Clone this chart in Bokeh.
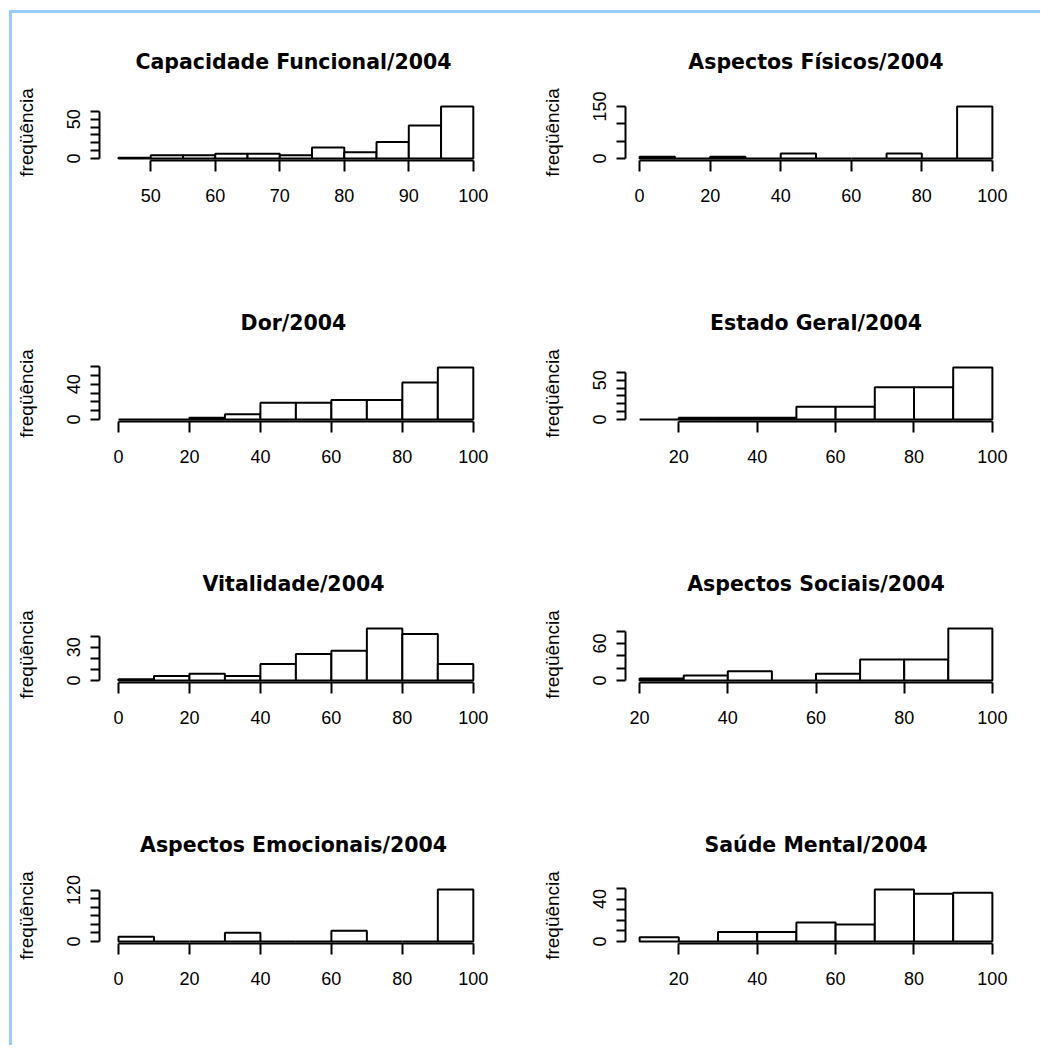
from bokeh.plotting import figure
from bokeh.layouts import column, row
from bokeh.models import FixedTicker, Range1d
from bokeh.embed import file_html
from bokeh.resources import INLINE

# ---- data ----
titles = ["Capacidade Funcional/2004", "Aspectos Físicos/2004",
          "Dor/2004", "Estado Geral/2004",
          "Vitalidade/2004", "Aspectos Sociais/2004",
          "Aspectos Emocionais/2004", "Saúde Mental/2004"]

breaks_cf = [45, 50, 55, 60, 65, 70, 75, 80, 85, 90, 95, 100]
counts_cf = [1, 4, 4, 6, 6, 4, 14, 8, 21, 42, 66]
xticks_cf = [50, 60, 70, 80, 90, 100]
yticks_cf = [0, 10, 20, 30, 40, 50, 60]
ylabels_cf = [0, 50]

breaks_af = [0, 10, 20, 30, 40, 50, 60, 70, 80, 90, 100]
counts_af = [5, 0, 5, 0, 14, 0, 0, 14, 0, 150]
xticks_af = [0, 20, 40, 60, 80, 100]
yticks_af = [0, 50, 100, 150]
ylabels_af = [0, 150]

breaks_dor = [0, 10, 20, 30, 40, 50, 60, 70, 80, 90, 100]
counts_dor = [0, 0, 2, 6, 19, 19, 22, 22, 42, 59]
xticks_dor = [0, 20, 40, 60, 80, 100]
yticks_dor = [0, 10, 20, 30, 40, 50, 60]
ylabels_dor = [0, 40]

breaks_eg = [10, 20, 30, 40, 50, 60, 70, 80, 90, 100]
counts_eg = [0, 2, 2, 2, 16, 16, 41, 41, 66]
xticks_eg = [20, 40, 60, 80, 100]
yticks_eg = [0, 10, 20, 30, 40, 50, 60]
ylabels_eg = [0, 50]

breaks_vit = [0, 10, 20, 30, 40, 50, 60, 70, 80, 90, 100]
counts_vit = [1, 4, 6, 4, 15, 24, 27, 47, 42, 15]
xticks_vit = [0, 20, 40, 60, 80, 100]
yticks_vit = [0, 10, 20, 30, 40]
ylabels_vit = [0, 30]

breaks_as = [20, 30, 40, 50, 60, 70, 80, 90, 100]
counts_as = [3, 8, 15, 0, 11, 34, 34, 84]
xticks_as = [20, 40, 60, 80, 100]
yticks_as = [0, 20, 40, 60, 80]
ylabels_as = [0, 60]

breaks_ae = [0, 10, 20, 30, 40, 50, 60, 70, 80, 90, 100]
counts_ae = [11, 0, 0, 20, 0, 0, 25, 0, 0, 121]
xticks_ae = [0, 20, 40, 60, 80, 100]
yticks_ae = [0, 20, 40, 60, 80, 100, 120]
ylabels_ae = [0, 120]

breaks_sm = [10, 20, 30, 40, 50, 60, 70, 80, 90, 100]
counts_sm = [4, 0, 9, 9, 18, 16, 49, 45, 46]
xticks_sm = [20, 40, 60, 80, 100]
yticks_sm = [0, 10, 20, 30, 40, 50]
ylabels_sm = [0, 40]

ylab = "freqüência"

panels = [
    (titles[0], breaks_cf, counts_cf, xticks_cf, yticks_cf, ylabels_cf),
    (titles[1], breaks_af, counts_af, xticks_af, yticks_af, ylabels_af),
    (titles[2], breaks_dor, counts_dor, xticks_dor, yticks_dor, ylabels_dor),
    (titles[3], breaks_eg, counts_eg, xticks_eg, yticks_eg, ylabels_eg),
    (titles[4], breaks_vit, counts_vit, xticks_vit, yticks_vit, ylabels_vit),
    (titles[5], breaks_as, counts_as, xticks_as, yticks_as, ylabels_as),
    (titles[6], breaks_ae, counts_ae, xticks_ae, yticks_ae, ylabels_ae),
    (titles[7], breaks_sm, counts_sm, xticks_sm, yticks_sm, ylabels_sm),
]

# ---- layout / style ----
COL_W = [521, 507]
COL_BL = [87, 92]
COL_FW = [388, 381]
COL_LEXT = [0.0535, 0.04]
ROW_H = [261, 261, 261, 249]
BT = 91
FH = 56
LW = 2


def make_panel(i, title, breaks, counts, xticks, yticks, ylabels):
    c = i % 2
    r = i // 2
    w = COL_W[c]
    h = ROW_H[r]
    span = breaks[-1] - breaks[0]
    ymax = max(counts)
    p = figure(width=w, height=h, output_backend="svg", toolbar_location=None,
               min_border_left=COL_BL[c], min_border_right=w - COL_BL[c] - COL_FW[c],
               min_border_top=BT, min_border_bottom=h - BT - FH,
               x_range=Range1d(breaks[0] - COL_LEXT[c] * span, breaks[-1] + 0.04 * span),
               y_range=Range1d(-0.04 * ymax, 1.04 * ymax))
    p.outline_line_color = None
    p.grid.visible = False
    p.background_fill_color = "white"
    p.border_fill_color = "white"

    p.quad(left=breaks[:-1], right=breaks[1:], bottom=[0] * len(counts), top=counts,
           fill_color="white", line_color="black", line_width=LW)

    p.title.text = title
    p.title.align = "center"
    p.title.text_font = "DejaVu Sans"
    p.title.text_font_style = "bold"
    p.title.text_font_size = "20.5px"
    p.title.text_color = "black"
    p.title.standoff = 62

    xa = p.xaxis[0]
    xa.ticker = FixedTicker(ticks=xticks)
    xa.bounds = (xticks[0], xticks[-1])
    xa.axis_line_width = LW
    xa.major_tick_line_width = LW
    xa.major_tick_in = 0
    xa.major_tick_out = 11
    xa.minor_tick_line_color = None
    xa.major_label_standoff = 17
    xa.major_label_text_font = "Liberation Sans"
    xa.major_label_text_font_size = "18px"
    xa.major_label_text_color = "black"

    ya = p.yaxis[0]
    ya.ticker = FixedTicker(ticks=yticks)
    ya.bounds = (yticks[0], yticks[-1])
    ya.axis_line_width = LW
    ya.major_tick_line_width = LW
    ya.major_tick_in = 0
    ya.major_tick_out = 9
    ya.minor_tick_line_color = None
    ya.major_label_orientation = "vertical"
    ya.major_label_standoff = 10
    ya.major_label_text_font = "Liberation Sans"
    ya.major_label_text_font_size = "18px"
    ya.major_label_text_color = "black"
    ya.major_label_overrides = {t: (str(t) if t in ylabels else "") for t in yticks}
    ya.axis_label = ylab
    ya.axis_label_text_font = "Liberation Sans"
    ya.axis_label_text_font_style = "normal"
    ya.axis_label_text_font_size = "19px"
    ya.axis_label_text_color = "black"
    ya.axis_label_standoff = 28
    return p


figs = [make_panel(i, *pn) for i, pn in enumerate(panels)]
rows = [row(figs[2 * k], figs[2 * k + 1]) for k in range(4)]
layout = column(*rows, styles={"margin-left": "9px", "margin-top": "10px",
                               "border-left": "3px solid #99CCFF",
                               "border-top": "3px solid #99CCFF"})

open("out.html", "w").write(file_html(layout, INLINE))
